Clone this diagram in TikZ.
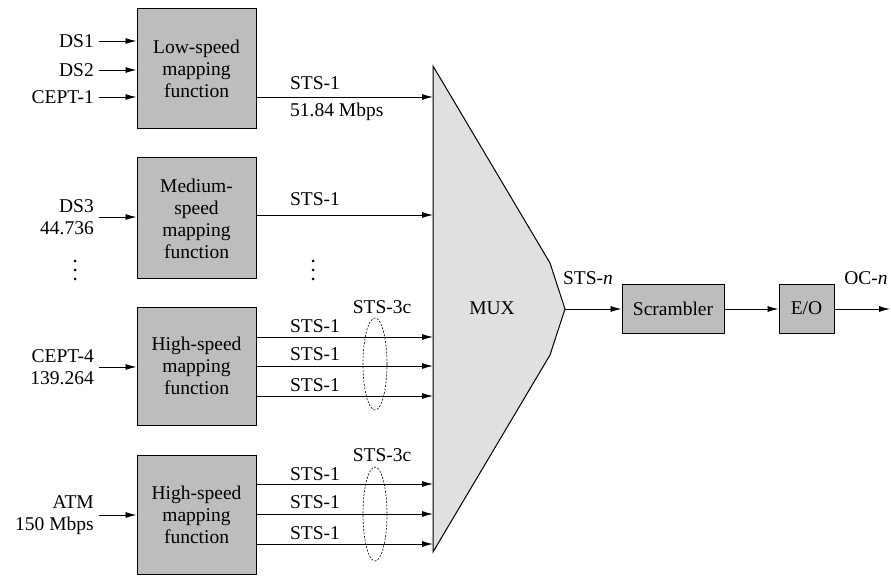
\documentclass[tikz,border=0pt]{standalone}
\usepackage{fontspec}
\setmainfont{Liberation Serif}
\usetikzlibrary{arrows.meta}
\definecolor{boxgray}{gray}{0.74}
\definecolor{muxgray}{gray}{0.88}
\tikzset{
  fnbox/.style={draw=black, line width=1pt, fill=boxgray, minimum width=119pt, text width=110pt, align=center, inner sep=0pt, font=\fontsize{19.5}{22}\selectfont},
  lbl/.style={inner sep=0pt, font=\fontsize{19.5}{22}\selectfont},
  inlbl/.style={lbl, anchor=east, align=right, inner sep=5pt},
  conn/.style={line width=0.9pt, -{Latex[length=11pt,width=6pt]}},
  grp/.style={dashed, dash pattern=on 2pt off 1.5pt, line width=0.6pt},
}
\begin{document}
\begin{tikzpicture}[x=1pt,y=-1pt]
\useasboundingbox (0,0) rectangle (891,577);
% MUX shape
\coordinate (mtop) at (433,66);
\coordinate (mbot) at (433,552);
\coordinate (mapex) at (565,309);
\draw[line width=1pt, fill=muxgray] (mtop) -- (550,263) -- (mapex) -- (550,355) -- (mbot) -- cycle;
\node[lbl] (mux) at (492,308) {MUX};
% boxes
\node[fnbox, minimum height=120pt] (low) at (196.5,69) {Low-speed\\mapping\\function};
\node[fnbox, minimum height=121pt] (med) at (196.5,218.5) {Medium-\\speed\\mapping\\function};
\node[fnbox, minimum height=118pt] (hi1) at (196.5,366) {High-speed\\mapping\\function};
\node[fnbox, minimum height=119pt] (hi2) at (196.5,514.5) {High-speed\\mapping\\function};
% input labels
\node[inlbl] (ds1) at (99,41) {DS1};
\node[inlbl] (ds2) at (99,70) {DS2};
\node[inlbl] (cept1) at (99,97) {CEPT-1};
\node[inlbl] (ds3) at (99,217) {DS3\\44.736};
\node[inlbl] (cept4) at (99,367) {CEPT-4\\139.264};
\node[inlbl] (atm) at (99,515) {ATM\\150 Mbps};
\foreach \n/\b in {ds1/low,ds2/low,cept1/low,ds3/med,cept4/hi1,atm/hi2}
  \draw[conn] (\n.east) -- (\b.west |- \n.east);
% dots
\foreach \y in {261,270,279} {
  \fill (75,\y) circle (1.5pt);
  \fill (313,\y) circle (1.5pt);
}
% MUX input coordinates
\coordinate (m1) at (433,97);
\coordinate (m2) at (433,215);
\coordinate (m3) at (433,337);
\coordinate (m4) at (433,366);
\coordinate (m5) at (433,396);
\coordinate (m6) at (433,484);
\coordinate (m7) at (433,514);
\coordinate (m8) at (433,544);
\draw[conn] (low.east |- m1) -- (m1);
\draw[conn] (med.east |- m2) -- (m2);
\draw[conn] (hi1.east |- m3) -- (m3);
\draw[conn] (hi1.east |- m4) -- (m4);
\draw[conn] (hi1.east |- m5) -- (m5);
\draw[conn] (hi2.east |- m6) -- (m6);
\draw[conn] (hi2.east |- m7) -- (m7);
\draw[conn] (hi2.east |- m8) -- (m8);
% output labels
\node[lbl] (l1) at (315,83) {STS-1};
\node[lbl, anchor=west] (l1b) at (290,112) {51.84 Mbps};
\node[lbl] (l2) at (315,199) {STS-1};
\node[lbl] (l3) at (315,326) {STS-1};
\node[lbl] (l4) at (315,354) {STS-1};
\node[lbl] (l5) at (315,385) {STS-1};
\node[lbl] (l6) at (315,474) {STS-1};
\node[lbl] (l7) at (315,502) {STS-1};
\node[lbl] (l8) at (315,533) {STS-1};
% groups
\draw[grp] (375,364) ellipse [x radius=12, y radius=46];
\draw[grp] (375,514) ellipse [x radius=12, y radius=47];
\node[lbl] (g1) at (382,307) {STS-3c};
\node[lbl] (g2) at (382,455) {STS-3c};
% chain
\node[fnbox, text width=95pt, minimum width=102pt, minimum height=49pt] (scr) at (673,308.5) {Scrambler};
\node[fnbox, text width=50pt, minimum width=55pt, minimum height=49pt] (eo) at (806.5,308.5) {E/O};
\coordinate (out) at (890,309);
\draw[conn] (mapex) -- (scr.west |- mapex);
\draw[conn] (scr.east |- mapex) -- (eo.west |- mapex);
\draw[conn] (eo.east |- mapex) -- (out);
\node[lbl] (stsn) at (588,278) {STS-\textit{n}};
\node[lbl] (ocn) at (866,278) {OC-\textit{n}};
\end{tikzpicture}
\end{document}
